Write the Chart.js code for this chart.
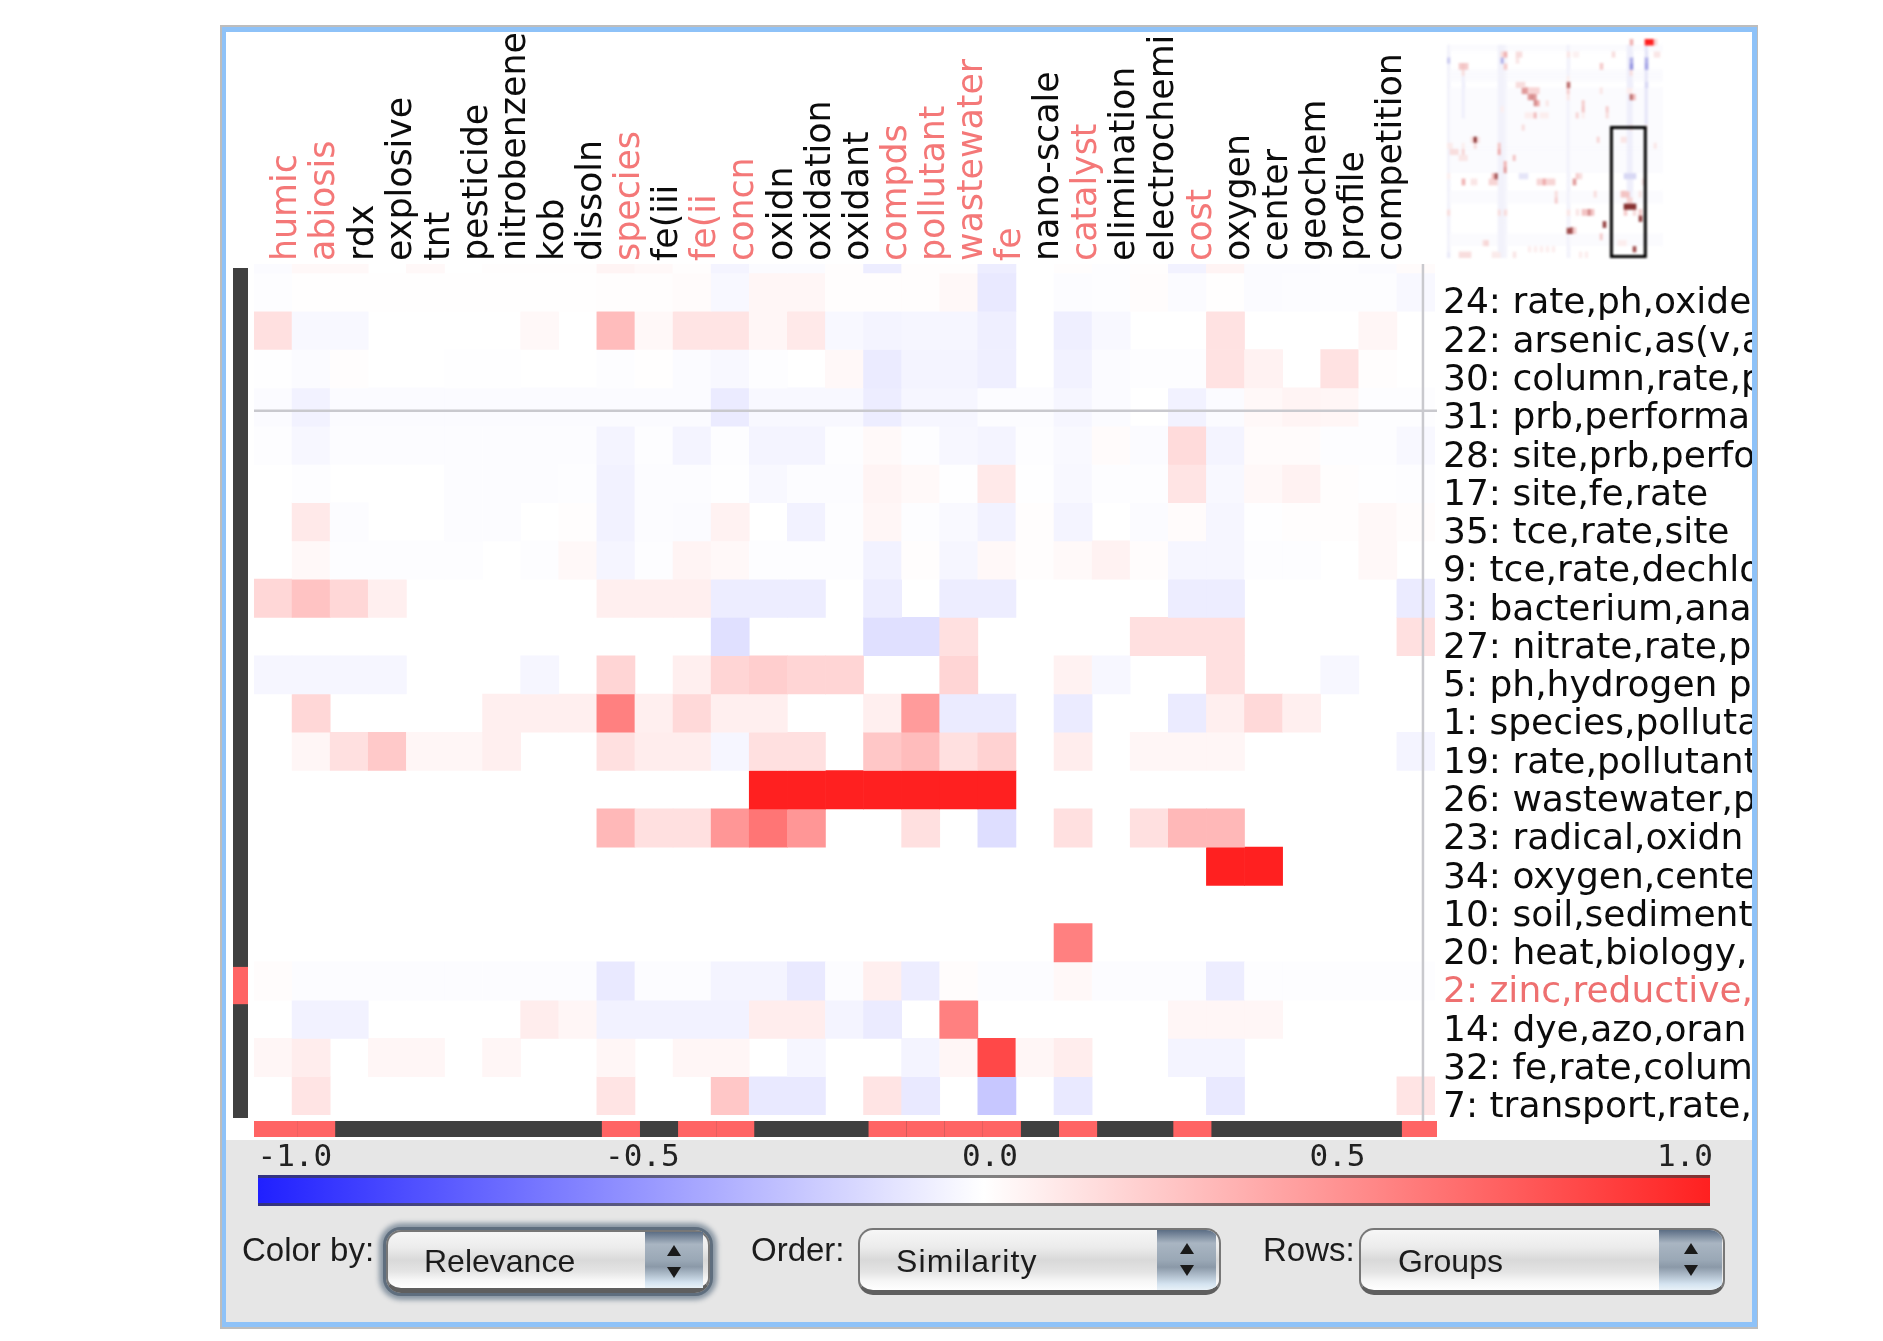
<!DOCTYPE html>
<html><head><meta charset="utf-8">
<script src="https://cdn.jsdelivr.net/npm/chart.js@4"></script>
<style>
html,body{margin:0;padding:0;background:#fff;width:1883px;height:1341px;overflow:hidden}
#frame{position:absolute;left:220px;top:25px;width:1538px;height:1304px;box-sizing:border-box;background:#bdbdbd}
#panel{position:absolute;left:226px;top:32px;width:1526px;height:1290px;background:#fff;overflow:hidden}
#blue{position:absolute;left:222px;top:27px;width:1535px;height:1300px;background:#8ec2f8}
#lower{position:absolute;left:0;top:1108px;width:1526px;height:182px;background:#e6e6e6}
canvas{position:absolute;display:block;filter:blur(.7px)}
#mini{filter:blur(1.1px)}
.lbl{position:absolute;font:33px "Liberation Sans",sans-serif;color:#1c1c1c;white-space:nowrap;line-height:36px;filter:blur(.6px)}
.pop{position:absolute;box-sizing:border-box;border:2px solid #777;border-bottom:5px solid #5f5f5f;border-radius:15px;
 background:linear-gradient(#f6f6f6 0,#ececec 28%,#d9d9d9 50%,#e4e4e4 70%,#f6f6f6 85%,#fff 100%);overflow:hidden;filter:blur(.6px)}
.focus{box-shadow:0 0 0 3px #5f6e7e,0 0 5px 7px #8a97a4;overflow:visible}
.pop span{position:absolute;font:32px "Liberation Sans",sans-serif;color:#1c1c1c;line-height:36px;white-space:nowrap}
.arr{position:absolute;top:0;bottom:0;background:linear-gradient(#5c6e85 0,#a9b5c2 22%,#9aa8b6 50%,#8b99a8 62%,#d4e3f0 90%,#e8f1f8 100%)}
.up,.dn{position:absolute;left:50%;margin-left:-7px;width:0;height:0;border-left:7px solid transparent;border-right:7px solid transparent}
.up{top:13px;border-bottom:11px solid #1a1a1a}
.dn{top:35px;border-top:11px solid #1a1a1a}
</style></head><body>
<div id="frame"></div><div id="blue"></div>
<div id="panel">
 <div id="lower"></div>
 <canvas id="main" width="1526" height="1108" style="left:0;top:0;width:1526px;height:1108px"></canvas>
 <canvas id="mini" width="216" height="219" style="left:1221px;top:7px;width:216px;height:219px"></canvas>
 <canvas id="bar" width="1526" height="78" style="left:0;top:1108px;width:1526px;height:78px"></canvas>
 <div class="lbl" style="left:16px;top:1200px">Color by:</div>
 <div class="pop focus" style="left:160px;top:1198px;width:324px;height:63px"><span style="left:36px;top:11px">Relevance</span><div class="arr" style="width:58px;right:5px"><div class="up"></div><div class="dn"></div></div></div>
 <div class="lbl" style="left:525px;top:1200px">Order:</div>
 <div class="pop" style="left:632px;top:1196px;width:363px;height:67px"><span style="left:36px;top:13px;letter-spacing:1.2px">Similarity</span><div class="arr" style="width:59px;right:3px"><div class="up"></div><div class="dn"></div></div></div>
 <div class="lbl" style="left:1037px;top:1200px">Rows:</div>
 <div class="pop" style="left:1133px;top:1196px;width:366px;height:67px"><span style="left:37px;top:13px">Groups</span><div class="arr" style="width:63px;right:1px"><div class="up"></div><div class="dn"></div></div></div>
</div>
<script>
// ---- column terms (last column's heading is not visible in the picture)
const columnTerms = ["humic","abiosis","rdx","explosive","tnt","pesticide","nitrobenzene","kob","dissoln","species","fe(iii","fe(ii","concn","oxidn","oxidation","oxidant","compds","pollutant","wastewater","fe","nano-scale","catalyst","elimination","electrochemi","cost","oxygen","center","geochem","profile","competition",""];
const highlightedColumns = [0,1,9,11,12,16,17,18,19,21,24,30];
// ---- row labels
const rowLabels = ["24: rate,ph,oxide","22: arsenic,as(v,a","30: column,rate,p","31: prb,performa","28: site,prb,perfo","17: site,fe,rate","35: tce,rate,site","9: tce,rate,dechlo","3: bacterium,ana","27: nitrate,rate,p","5: ph,hydrogen p","1: species,polluta","19: rate,pollutant","26: wastewater,p","23: radical,oxidn","34: oxygen,cente","10: soil,sediment","20: heat,biology,","2: zinc,reductive,","14: dye,azo,oran","32: fe,rate,colum","7: transport,rate,"];
const highlightedRows = [18];
// ---- relevance values, one array per row; rowAbove is the row scrolled mostly out of view
const rowAbove=[-.02,.03,.03,0,.03,0,.01,.01,.01,.05,.03,.01,-.05,-.02,-.02,.01,-.08,.01,.01,-.08,0,.01,-.01,.01,-.06,.05,-.02,-.02,-.01,-.02,.02];
const row24=[-.01,.005,.005,.005,.005,.005,.005,.005,.005,.01,.01,.02,-.03,.04,.04,.01,.01,.01,.03,-.1,0,-.015,-.01,.015,-.02,.005,-.02,-.015,-.01,-.01,-.03];
const row22=[.14,-.03,-.03,0,0,0,0,.03,0,.3,.03,.12,.12,.04,.1,-.03,-.05,-.04,-.04,-.07,0,-.07,-.03,0,0,.13,0,0,0,.04,0];
const row30=[-.005,-.02,.01,0,0,-.005,-.005,0,0,-.01,.005,-.02,-.03,-.01,0,.03,-.09,-.05,-.05,-.07,0,-.06,-.02,-.01,-.01,.13,.06,0,.13,.01,0];
const row31=[-.02,-.06,-.02,-.02,-.02,-.02,-.02,-.02,-.02,-.02,-.02,-.02,-.09,-.03,-.03,-.03,-.08,-.04,-.04,-.015,-.015,-.04,-.02,0,-.06,-.02,.03,.05,.04,-.01,-.01];
const row28=[-.01,-.035,-.015,-.015,-.015,-.015,-.015,-.015,-.015,-.05,-.01,-.05,-.01,-.05,-.05,-.01,.025,-.01,-.035,-.05,-.01,-.025,.02,-.02,.16,-.05,.02,.02,-.01,-.01,-.03];
const row17=[0,-.01,0,0,0,-.015,-.015,-.015,-.01,-.06,-.015,-.015,-.005,-.03,-.015,-.015,.05,.025,-.005,.1,-.005,-.03,-.01,-.01,.12,-.03,.03,.06,.01,-.005,-.01];
const row35=[0,.1,-.015,0,0,-.015,-.015,0,.01,-.06,-.015,-.02,.06,0,-.06,-.01,.04,-.01,-.025,-.06,.01,-.05,0,-.02,.02,-.04,-.005,.01,.01,.03,.015];
const row9=[0,.03,-.01,-.01,-.01,-.01,0,-.01,.03,-.045,-.01,.05,.03,-.01,-.01,-.01,-.06,.01,-.04,.03,.01,.025,.06,.015,-.04,-.04,-.01,-.01,0,.03,0];
const row3=[.18,.27,.18,.07,0,0,0,0,0,.07,.07,.07,-.08,-.08,-.08,0,-.08,0,-.08,-.08,0,0,0,0,-.08,-.08,0,0,0,0,-.09];
const row27=[0,0,0,0,0,0,0,0,0,0,0,0,-.14,0,0,0,-.14,-.14,.14,0,0,0,0,.14,.14,.14,0,0,0,0,.14];
const row5=[-.04,-.04,-.04,-.04,0,0,0,-.04,0,.19,0,.07,.19,.22,.19,.19,0,0,.19,0,0,.06,-.035,0,0,.14,0,0,-.035,0,0];
const row1=[0,.18,0,0,0,0,.07,.07,.07,.57,.07,.17,.07,.07,0,0,.07,.45,-.09,-.09,0,-.09,0,0,-.09,.07,.17,.07,0,0,0];
const row19=[0,.04,.14,.24,.04,.04,.07,0,0,.14,.08,.08,-.04,.14,.14,0,.25,.3,.14,.2,0,.08,0,.04,.04,.04,0,0,0,0,-.05];
const row26=[0,0,0,0,0,0,0,0,0,0,0,0,0,1,1,1,1,1,1,1,0,0,0,0,0,0,0,0,0,0,0];
const row23=[0,0,0,0,0,0,0,0,0,.32,.14,.14,.47,.62,.47,0,0,.14,0,-.15,0,.14,0,.14,.32,.32,0,0,0,0,0];
const row34=[0,0,0,0,0,0,0,0,0,0,0,0,0,0,0,0,0,0,0,0,0,0,0,0,0,1,1,0,0,0,0];
const row10=[0,0,0,0,0,0,0,0,0,0,0,0,0,0,0,0,0,0,0,0,0,0,0,0,0,0,0,0,0,0,0];
const row20=[0,0,0,0,0,0,0,0,0,0,0,0,0,0,0,0,0,0,0,0,0,.57,0,0,0,0,0,0,0,0,0];
const row2=[.015,-.015,-.015,-.015,-.015,-.015,-.015,-.015,-.015,-.1,-.015,-.015,-.05,-.05,-.1,-.015,.07,-.08,.015,-.015,-.015,.03,-.015,-.015,-.015,-.08,-.01,-.01,-.01,-.01,-.01];
const row14=[0,-.06,-.06,0,0,0,0,.08,.04,-.06,-.06,-.06,-.06,.08,.08,-.05,-.09,0,.57,0,0,0,0,0,.04,.04,.04,0,0,0,0];
const row32=[.04,.08,0,.04,.04,0,.04,0,0,.04,0,.04,.04,0,-.04,0,0,-.05,.04,.82,.04,.08,0,0,-.05,-.05,0,0,0,0,0];
const row7=[0,.12,0,0,0,0,0,0,0,.12,0,0,.25,-.1,-.1,0,.12,-.1,0,-.25,0,-.1,0,0,0,-.1,0,0,0,0,.12];
const heatRows=[rowAbove,row24,row22,row30,row31,row28,row17,row35,row9,row3,row27,row5,row1,row19,row26,row23,row34,row10,row20,row2,row14,row32,row7];
// ---- colour bar ticks
const colorTicks=[-1,-.5,0,.5,1];
// ---- overview thumbnail: [col,row,value]
const miniSize=[72,36];
const miniFaintRows=[1,5,6,8,9,10,11,12,13,14,15,16,17,18,19,20,21,25,26,32,33];
const miniColumnBands=[[0,1,35,-.05],[5,5,12,-.06],[17,1,35,-.05],[18,1,35,-.05],[19,1,35,-.04],[40,1,35,-.05],[60,1,26,-.06],[61,1,26,-.06],[66,1,14,-.1]];
const miniCells=[[61,0,.45],[66,0,1],[67,0,1],[68,0,1],[69,0,.25],
[18,2,.2],[19,2,.45],[23,2,.2],[24,2,.2],[40,2,.15],[42,2,.08],[43,2,.08],[55,2,.2],[69,2,.15],[70,2,.15],
[0,3,-.2],[18,3,-.3],[23,3,.15],[61,3,-.3],[66,3,-.3],
[4,4,.3],[5,4,.35],[6,4,.3],[19,4,.3],[51,4,.3],[61,4,-.4],[66,4,-.35],
[5,5,.2],[61,5,.2],[40,6,.1],
[23,7,.2],[24,7,.2],[25,7,.2],[40,7,.7],[66,7,-.15],
[25,8,.55],[26,8,.55],[27,8,.25],[28,8,.25],[29,8,.25],[30,8,.25],[40,8,.3],[51,8,.15],[60,8,.1],[61,8,.1],
[27,9,.55],[28,9,.6],[29,9,.55],[40,9,.15],[61,9,.7],[62,9,.4],
[29,10,.6],[30,10,.5],[33,10,.15],[45,10,.3],
[18,11,.1],[45,11,.35],[53,11,.3],
[26,12,.1],[27,12,.1],[28,12,.1],[29,12,.4],[31,12,.1],[32,12,.1],[33,12,.1],[43,12,.25],[45,12,.1],[53,12,.2],
[25,14,.2],[61,14,.15],[66,14,.1],
[8,16,.2],[9,16,.9],[10,16,.2],[50,16,.25],[58,16,.15],[59,16,.15],
[9,17,.2],[0,17,.12],[1,17,.12],[5,17,.1],[17,17,.35],[69,17,.15],
[1,18,.2],[2,18,.2],[3,18,.2],[5,18,.25],[17,18,.5],
[4,19,.15],[5,19,.15],[6,19,.15],[22,19,.35],
[19,20,.45],[19,21,.55],
[0,22,.1],[15,22,.4],[16,22,.8],[24,22,-.1],[25,22,-.1],[26,22,-.1],[43,22,.3],[44,22,.2],[59,22,-.15],[60,22,-.15],[61,22,-.15],[62,22,-.15],
[5,23,.45],[8,23,.15],[9,23,.15],[14,23,.25],[15,23,.25],[16,23,.25],[30,23,.25],[31,23,.25],[32,23,.5],[33,23,.25],[34,23,.25],[35,23,.25],[42,23,.55],[65,23,.15],
[36,25,.2],[49,25,.2],[58,25,.35],[59,25,.35],[60,25,.35],[64,25,.15],
[36,26,.3],[60,26,.25],[61,26,.25],
[59,27,.9],[60,27,.9],[61,27,.9],[62,27,.9],
[0,28,.2],[17,28,.2],[19,28,.2],[40,28,.15],[43,28,.15],[45,28,.35],[46,28,.35],[47,28,.6],[48,28,.35],[59,28,.3],[62,28,.2],[64,28,.3],
[64,29,.85],[52,30,.85],
[40,31,.8],[41,31,.8],[42,31,.3],
[51,32,.3],
[12,33,.2],[13,33,.25],[57,33,.1],[58,33,.1],[59,33,.1],
[27,34,.1],[29,34,.1],[31,34,.1],[33,34,.1],[35,34,.1],[62,34,.8],
[0,35,-.08],[4,35,.2],[5,35,.2],[6,35,.2],[7,35,.2],[15,35,.12],[16,35,.12],[17,35,.12],[22,35,.15],[44,35,.1],[46,35,.1]];
const viewWindow={colFrom:54.3,colTo:66.6,rowFrom:14.3,rowTo:36};
const hover={col:30,row:3.6};

const RED="#ff6464", DARK="#404040";
function cellColor(v){
  if(!v) return "rgba(255,255,255,0)";
  const c=Math.round(255-223*Math.min(1,Math.abs(v)));
  return v>0?`rgb(255,${c},${c})`:`rgb(${c},${c},255)`;
}
function miniColor(v){
  if(!v) return "rgba(255,255,255,0)";
  if(v>=1) return "rgb(255,32,32)";
  if(v<0){const t=Math.min(.4,-v);return `rgb(${Math.round(255-75/.4*t*1.4)},${Math.round(255-75/.4*t*1.4)},${Math.round(255-30/.4*t)})`;}
  const mix=(a,b,t)=>Math.round(a+(b-a)*t);
  if(v<=.5){const t=v/.5;return `rgb(${mix(255,238,t)},${mix(255,170,t)},${mix(255,170,t)})`;}
  const t=(v-.5)/.4;return `rgb(${mix(238,135,t)},${mix(170,50,t)},${mix(170,50,t)})`;
}
Chart.defaults.animation=false;
Chart.defaults.responsive=false;

const stripsPlugin={id:"strips",afterDatasetsDraw(chart){
  const {ctx,chartArea:a,scales:{x,y}}=chart;
  const cw=a.width/columnTerms.length;
  ctx.save();
  // cross-hair
  ctx.strokeStyle="#c9c9ce";ctx.lineWidth=2.5;ctx.beginPath();
  const hy=y.getPixelForValue(hover.row), hx=x.getPixelForValue(hover.col)+7;
  ctx.moveTo(a.left,hy);ctx.lineTo(a.right+2,hy);ctx.moveTo(hx,a.top);ctx.lineTo(hx,a.bottom+6);ctx.stroke();
  // row strip at the left
  ctx.fillStyle=DARK;ctx.fillRect(7,a.top+4,15,a.bottom+3-a.top-4);
  highlightedRows.forEach(r=>{const t=y.getPixelForValue(r)+5,b=y.getPixelForValue(r+1)+4;
    ctx.fillStyle=RED;ctx.fillRect(7,t,15,b-t);});
  // column strip at the bottom
  const top=a.bottom+6,h=16;
  ctx.fillStyle=DARK;ctx.fillRect(a.left,top,a.width+2,h);
  ctx.fillStyle=RED;
  highlightedColumns.forEach(c=>{
    let l=x.getPixelForValue(c)-cw/2+5,r=l+cw;
    if(c===0) l=a.left; if(c===columnTerms.length-1) r=a.right+2;
    ctx.fillRect(l,top,r-l,h);});
  ctx.restore();
}};

new Chart(document.getElementById("main"),{
  type:"bar",
  data:{labels:columnTerms,datasets:heatRows.map((vals,i)=>({
    label:i?rowLabels[i-1]:"above",
    data:vals.map(()=>[i-1,i]),
    backgroundColor:vals.map(cellColor),
    borderWidth:0,barPercentage:1,categoryPercentage:1,grouped:false}))},
  options:{
    layout:{padding:{left:28,right:0,top:0,bottom:25}},
    plugins:{legend:{display:false},tooltip:{enabled:false}},
    scales:{
      x:{position:"top",grid:{display:false,drawTicks:false},border:{display:false},
        afterFit(s){s.height=232;},
        ticks:{autoSkip:false,minRotation:90,maxRotation:90,padding:3,labelOffset:56,
          font:{family:"DejaVu Sans",size:34.8},
          color:c=>highlightedColumns.includes(c.index)?"#f47878":"#0c0c0c"}},
      y:{position:"right",reverse:true,min:-0.235,max:22,grid:{display:false,drawTicks:false},border:{display:false},
        afterFit(s){s.width=317;s.paddingTop=0;s.paddingBottom=0;},
        afterBuildTicks(s){s.ticks=rowLabels.map((_,i)=>({value:i+.5}));},
        ticks:{autoSkip:false,padding:8,labelOffset:12,
          font:{family:"DejaVu Sans",size:36},
          callback:v=>rowLabels[Math.floor(v)],
          color:c=>highlightedRows.includes(Math.floor(c.tick.value))?"#ee7070":"#0c0c0c"}}
    }
  },
  plugins:[stripsPlugin]
});

// thumbnail
const miniTable=[];
for(let r=0;r<miniSize[1];r++){miniTable.push(new Array(miniSize[0]).fill(0));}
miniFaintRows.forEach(r=>miniTable[r].fill(-.015));
miniColumnBands.forEach(([c,a,b,v])=>{for(let r=a;r<=b;r++)miniTable[r][c]=v;});
miniCells.forEach(([c,r,v])=>{miniTable[r][c]=v;});
new Chart(document.getElementById("mini"),{
  type:"bar",
  data:{labels:miniTable[0].map((_,i)=>i),datasets:miniTable.map((vals,r)=>({
    data:vals.map(()=>[r,r+1]),backgroundColor:vals.map(miniColor),
    borderWidth:0,barPercentage:1,categoryPercentage:1,grouped:false}))},
  options:{layout:{padding:0},plugins:{legend:{display:false},tooltip:{enabled:false}},
    scales:{x:{display:false},y:{display:false,reverse:true,min:0,max:miniSize[1]}}},
  plugins:[{id:"view",afterDatasetsDraw(chart){
    const {ctx,scales:{x,y}}=chart;const w=chart.chartArea.width/miniSize[0];
    const l=x.getPixelForValue(viewWindow.colFrom)-w/2,r=x.getPixelForValue(viewWindow.colTo)-w/2;
    const t=y.getPixelForValue(viewWindow.rowFrom),b=y.getPixelForValue(viewWindow.rowTo);
    ctx.save();ctx.strokeStyle="#000";ctx.lineWidth=3;ctx.strokeRect(l+1.5,t+1.5,r-l-3,b-t-3);ctx.restore();
  }}]
});

// colour bar
new Chart(document.getElementById("bar"),{
  type:"bar",
  data:{labels:["Relevance"],datasets:[{data:[[-1.053,1.036]],
    backgroundColor(ctx){
      const c=ctx.chart,a=c.chartArea;if(!a)return "#fff";
      const g=c.ctx.createLinearGradient(a.left,0,a.right,0);
      const z=(c.scales.x.getPixelForValue(0)-6-a.left)/a.width;
      g.addColorStop(0,"rgb(32,32,255)");g.addColorStop(z,"#fff");g.addColorStop(1,"rgb(255,32,32)");
      return g;},
    borderWidth:0,barPercentage:1,categoryPercentage:1}]},
  options:{indexAxis:"y",
    layout:{padding:{left:32,right:42,top:0,bottom:12}},
    plugins:{legend:{display:false},tooltip:{enabled:false}},
    scales:{
      y:{display:false},
      x:{position:"top",min:-1.053,max:1.036,grid:{display:false,drawTicks:false},border:{display:false},
        afterFit(s){s.height=35;},
        afterBuildTicks(s){s.ticks=colorTicks.map(value=>({value}));},
        ticks:{autoSkip:false,maxRotation:0,padding:-2,color:"#222",
          font:{family:"DejaVu Sans Mono",size:31},
          callback:v=>v.toFixed(1)}}
    }},
  plugins:[{id:"edges",afterDatasetsDraw(chart){
    const {ctx,chartArea:a}=chart;ctx.save();ctx.fillStyle="rgba(60,60,60,.65)";
    ctx.fillRect(a.left,a.top,a.width,3);ctx.fillRect(a.left,a.bottom-3,a.width,3);ctx.restore();}}]
});
</script>
</body></html>
